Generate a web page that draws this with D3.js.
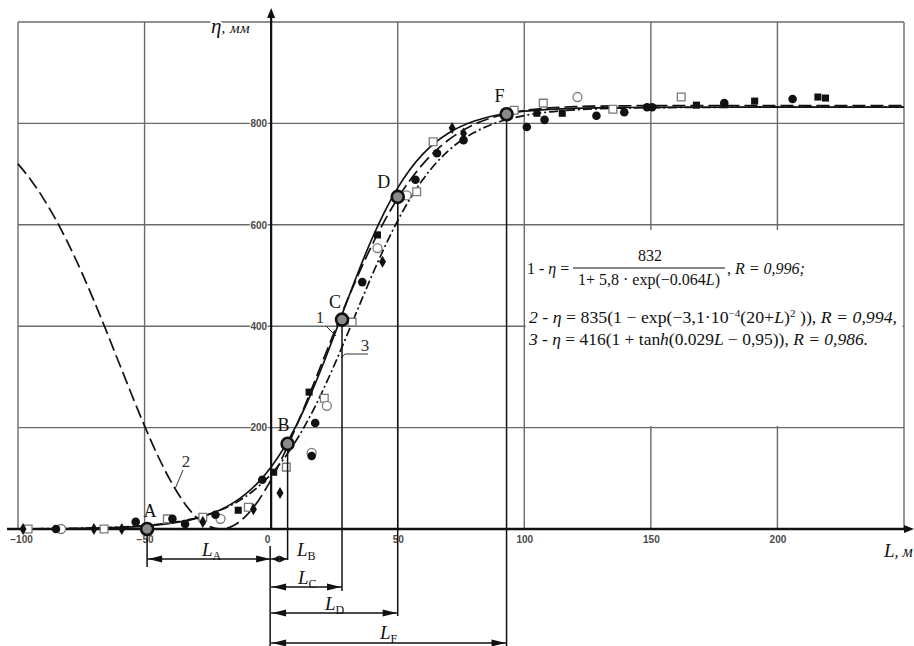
<!DOCTYPE html>
<html><head><meta charset="utf-8">
<script src="https://cdn.jsdelivr.net/npm/d3@7"></script>
<style>body{margin:0;background:#fff} svg{display:block}</style>
</head><body>
<svg id="c" width="914" height="646"></svg>
<script>
// ---------- data ----------
const xTicks = [-100, -50, 0, 50, 100, 150, 200];
const xGrid = [-100, -50, 0, 50, 100, 150, 200, 250];
const yTicks = [200, 400, 600, 800];
const yGrid = [200, 400, 600, 800, 1000];

// experimental points [L, eta]
const filledCircles = [[-85,0],[-53.5,14],[-39,20],[-34,10],[-22,28],[-3.5,97],[17.4,209],[16,144],[36,487],[57,689],[65.5,741],[76,767],[101,793],[108,807],[128.5,815],[139.5,822],[148.5,832],[150.5,832],[179,840],[206,848]];
const filledDiamonds = [[-98,0],[-70,0],[-59,0],[-27,14],[-7,39],[3.5,71],[44,527],[71.5,791],[76,780]];
const filledSquares = [[-13,37],[1,112],[15,270],[42,580],[105,820],[115,820],[168,836],[191,844],[216,852],[219,850]];
const openSquares = [[-96,0],[-66,0],[-41,20],[-27,23],[-9,43],[6,122],[21,258],[32,408],[57.5,665],[64,764],[96,826],[107.5,840],[135,828],[162,852]];
const openCircles = [[-83,0],[-20,20],[16,150],[22,243],[42,554],[53.5,658],[121,852]];

// fitted curves (values read along L)
const curveL = [-100,-95,-90,-85,-80,-75,-70,-65,-60,-55,-50,-45,-40,-35,-30,-25,-20,-15,-10,-5,0,5,10,15,20,25,30,35,40,45,50,55,60,65,70,80,90,100,110,120,130,140,150,175,200,250];
const curve1 = [0.2,0.3,0.5,0.6,0.9,1.2,1.6,2.2,3.1,4.2,5.8,8,10.9,15,20.5,28,38,51.5,69.3,92.6,122.4,159.6,205,258.3,318.5,383.2,449.6,514.4,574.5,627.6,672.9,710,739.8,763,780.7,804.1,817.1,824.1,827.8,829.8,830.8,831.4,831.7,831.9,832,832];
const curve2 = [720.2,689,652.2,609.6,561.5,508.1,450.3,389.3,326.5,263.9,203.3,147,97.4,56.3,25.5,6.4,0,6.4,25.5,56.3,97.4,147,203.3,263.9,326.5,389.3,450.3,508.1,561.5,609.6,652.2,689,720.2,746.1,767.2,797.4,815.4,825.4,830.6,833.1,834.2,834.7,835,835,835,835];
const curve3 = [0.4,0.5,0.6,0.8,1.2,1.6,2.1,2.8,3.8,5.1,6.8,9,12,16,21.3,28.3,37.3,49,64.3,84,108.3,138.6,175.4,218.9,268.7,324,382.8,443,502.1,557.8,608.2,652.4,689.9,720.9,746,781.5,803,815.5,822.7,826.8,829,830.3,831,831.7,831.95,832];
const curveNames = ["1", "2", "3"];

// characteristic points
const keyNames = ["A", "B", "C", "D", "F"];
const keyL = [-49, 6.5, 28, 50, 93];
const keyEta = [0, 168, 413, 655, 818];

// ---------- layout ----------
const svg = d3.select("#c");
const x = d3.scaleLinear().domain([-100, 250]).range([18, 904]);
const y = d3.scaleLinear().domain([0, 1000]).range([529, 22]);
const serif = "'Liberation Serif','Times New Roman',serif";
const INK = "#111";

// grid
const grid = svg.append("g").attr("stroke", "#6a6a6a").attr("stroke-width", 1.4);
grid.selectAll(".vg").data(xGrid).join("line")
  .attr("x1", d => x(d)).attr("x2", d => x(d)).attr("y1", y(0)).attr("y2", y(1000));
grid.selectAll(".hg").data(yGrid).join("line")
  .attr("x1", x(-100)).attr("x2", x(250)).attr("y1", d => y(d)).attr("y2", d => y(d));

// white formula box (hides grid beneath)
svg.append("rect").attr("x", x(100) + 1.5).attr("y", 230)
  .attr("width", x(250) - x(100) - 3).attr("height", 196).attr("fill", "#fff");

// axes with tick labels
const ax = svg.append("g").attr("transform", `translate(0,${y(0)})`)
  .call(d3.axisBottom(x).tickValues(xTicks).tickSize(0).tickPadding(7).tickFormat(d3.format("d")));
ax.select(".domain").remove();
ax.selectAll("text").attr("font-family", "'Liberation Sans',Arial,sans-serif")
  .attr("font-size", 10).attr("font-weight", "bold").attr("fill", "#4a4a4a")
  .attr("dx", d => d === 0 ? -4 : (d === -100 ? 3 : 0));

const ay = svg.append("g").attr("transform", `translate(${x(0)},0)`)
  .call(d3.axisLeft(y).tickValues(yTicks).tickSize(0).tickPadding(4).tickFormat(d3.format("d")));
ay.select(".domain").remove();
ay.selectAll("text").attr("font-family", "'Liberation Sans',Arial,sans-serif")
  .attr("font-size", 10).attr("font-weight", "bold").attr("fill", "#4a4a4a")
  .attr("stroke", "#fff").attr("stroke-width", 2).attr("paint-order", "stroke");

// axis lines + arrows
svg.append("line").attr("x1", 7).attr("x2", 906).attr("y1", y(0)).attr("y2", y(0))
  .attr("stroke", INK).attr("stroke-width", 2.4);
svg.append("path").attr("d", `M914,${y(0)} L904,${y(0)-4} L904,${y(0)+4} Z`).attr("fill", INK);
svg.append("line").attr("x1", x(0)).attr("x2", x(0)).attr("y1", y(0)).attr("y2", 14)
  .attr("stroke", INK).attr("stroke-width", 2.2);
svg.append("path").attr("d", `M${x(0)},8 L${x(0)-4},18 L${x(0)+4},18 Z`).attr("fill", INK);

// axis titles
const etaLbl = svg.append("text").attr("x", 211).attr("y", 33).attr("font-family", serif)
  .attr("font-style", "italic").attr("font-size", 21).attr("fill", INK)
  .attr("stroke", "#fff").attr("stroke-width", 4).attr("paint-order", "stroke");
etaLbl.append("tspan").text("η");
etaLbl.append("tspan").attr("font-size", 15).attr("letter-spacing", 0.5).text(", мм");
const lLbl = svg.append("text").attr("x", 884).attr("y", 557).attr("font-family", serif)
  .attr("font-style", "italic").attr("font-size", 19).attr("fill", INK);
lLbl.append("tspan").text("L");
lLbl.append("tspan").attr("font-size", 16).text(", м");

// curves
const curveVals = [curve1, curve2, curve3];
const dashes = [null, "13,5", "9,3,2,3"];
const line = d3.line().x(d => x(d[0])).y(d => y(d[1])).curve(d3.curveMonotoneX);
curveVals.forEach((vals, i) => {
  svg.append("path").datum(curveL.map((L, k) => [L, vals[k]]))
    .attr("d", line).attr("fill", "none").attr("stroke", INK)
    .attr("stroke-width", 1.7).attr("stroke-dasharray", dashes[i]);
});

// points
const sym = (type, size) => d3.symbol().type(type).size(size)();
const drawPts = (data, type, size, fill, stroke, sw) => {
  svg.append("g").selectAll("path").data(data).join("path")
    .attr("transform", d => `translate(${x(d[0])},${y(d[1])})`)
    .attr("d", sym(type, size)).attr("fill", fill).attr("stroke", stroke).attr("stroke-width", sw);
};
drawPts(openSquares, d3.symbolSquare, 60, "#fff", "#7a7a7a", 1.3);
drawPts(openCircles, d3.symbolCircle, 64, "#fff", "#7a7a7a", 1.3);
drawPts(filledSquares, d3.symbolSquare, 50, INK, "none", 0);
drawPts(filledCircles, d3.symbolCircle, 58, INK, "none", 0);
drawPts(filledDiamonds, d3.symbolDiamond, 42, INK, "none", 0);

// curve number labels with leaders
const lead = svg.append("g").attr("stroke", "#333").attr("stroke-width", 1).attr("fill", "none");
lead.append("path").attr("d", "M326,326 L336,336");
lead.append("path").attr("d", "M341,358 L345,354 L368,354");
lead.append("path").attr("d", "M175,489 L183,470");
const numPos = [[320, 323], [186, 467], [365, 351]];
svg.selectAll(".num").data(curveNames).join("text")
  .attr("x", (d, i) => numPos[i][0]).attr("y", (d, i) => numPos[i][1])
  .attr("text-anchor", "middle").attr("font-family", serif).attr("font-size", 17)
  .attr("fill", "#333").text(d => d);

// dimension lines
const dimRowY = [559, 559, 587, 613, 643];
const dimBottom = [567, 560, 591, 616, 646];
const kp = keyNames.map((n, i) => ({ n, L: keyL[i], e: keyEta[i], row: dimRowY[i], bot: dimBottom[i] }));
const dim = svg.append("g").attr("stroke", INK).attr("stroke-width", 1.5);
dim.append("line").attr("x1", x(0) - 1).attr("x2", x(0) - 1).attr("y1", 546).attr("y2", 646);
dim.selectAll(".kv").data(kp).join("line")
  .attr("x1", d => x(d.L)).attr("x2", d => x(d.L))
  .attr("y1", d => d.n === "A" ? y(0) + 4 : y(d.e)).attr("y2", d => d.bot);
dim.selectAll(".kh").data(kp).join("line")
  .attr("x1", d => Math.min(x(d.L), x(0))).attr("x2", d => Math.max(x(d.L), x(0)))
  .attr("y1", d => d.row).attr("y2", d => d.row);
const head = (tx, ty, dir, len) => `M${tx},${ty} L${tx - dir * len},${ty - 3.5} L${tx - dir * len},${ty + 3.5} Z`;
kp.forEach(d => {
  const a = Math.min(x(d.L), x(0)) + 1, b = Math.max(x(d.L), x(0)) - 1;
  const len = Math.min(14, (b - a) / 2);
  svg.append("path").attr("d", head(a, d.row, -1, len)).attr("fill", INK);
  svg.append("path").attr("d", head(b, d.row, 1, len)).attr("fill", INK);
});
const dimLblPos = [[202, 556], [297, 556], [298, 584], [325, 610], [380, 639]];
kp.forEach((d, i) => {
  const t = svg.append("text").attr("x", dimLblPos[i][0]).attr("y", dimLblPos[i][1])
    .attr("font-family", serif).attr("font-size", 19).attr("fill", INK);
  t.append("tspan").attr("font-style", "italic").text("L");
  t.append("tspan").attr("font-size", 12).attr("dy", 4).text(d.n);
});

// key points
svg.selectAll(".kp").data(kp).join("circle")
  .attr("cx", d => x(d.L)).attr("cy", d => y(d.e)).attr("r", 6)
  .attr("fill", "#8a8a8a").attr("stroke", INK).attr("stroke-width", 2.6);
const keyOff = [[3, -12], [-4, -13], [-7, -12], [-14, -9], [-7, -12]];
svg.selectAll(".kl").data(kp).join("text")
  .attr("x", (d, i) => x(d.L) + keyOff[i][0]).attr("y", (d, i) => y(d.e) + keyOff[i][1])
  .attr("text-anchor", "middle").attr("font-family", serif).attr("font-size", 18)
  .attr("fill", INK).text(d => d.n);

// formulas
const F = svg.append("g").attr("font-family", serif).attr("font-size", 16).attr("fill", INK);
let t1 = F.append("text").attr("x", 527).attr("y", 274);
t1.append("tspan").text("1 - ");
t1.append("tspan").attr("font-style", "italic").text("η");
t1.append("tspan").text(" =");
F.append("text").attr("x", 650).attr("y", 261).attr("text-anchor", "middle").text("832");
F.append("line").attr("x1", 573).attr("x2", 725).attr("y1", 268).attr("y2", 268)
  .attr("stroke", INK).attr("stroke-width", 1);
let den = F.append("text").attr("x", 649).attr("y", 285).attr("text-anchor", "middle");
den.append("tspan").text("1+ 5,8 · exp(−0.064");
den.append("tspan").attr("font-style", "italic").text("L");
den.append("tspan").text(")");
let r1 = F.append("text").attr("x", 727).attr("y", 274);
r1.append("tspan").text(", ");
r1.append("tspan").attr("font-style", "italic").text("R = 0,996;");

let t2 = F.append("text").attr("x", 529).attr("y", 323).attr("textLength", 368).attr("lengthAdjust", "spacingAndGlyphs");
t2.append("tspan").attr("font-style", "italic").text("2 - η");
t2.append("tspan").text(" = 835(1 − exp(−3,1·10");
t2.append("tspan").attr("font-size", 10).attr("dy", -6).text("−4");
t2.append("tspan").attr("dy", 6).text("(20+");
t2.append("tspan").attr("font-style", "italic").text("L");
t2.append("tspan").text(")");
t2.append("tspan").attr("font-size", 10).attr("dy", -6).text("2");
t2.append("tspan").attr("dy", 6).text(" )), ");
t2.append("tspan").attr("font-style", "italic").text("R = 0,994,");

let t3 = F.append("text").attr("x", 529).attr("y", 345).attr("textLength", 339).attr("lengthAdjust", "spacingAndGlyphs");
t3.append("tspan").attr("font-style", "italic").text("3 - η");
t3.append("tspan").text(" = 416(1 + tan");
t3.append("tspan").attr("font-style", "italic").text("h");
t3.append("tspan").text("(0.029");
t3.append("tspan").attr("font-style", "italic").text("L");
t3.append("tspan").text(" − 0,95)), ");
t3.append("tspan").attr("font-style", "italic").text("R = 0,986.");
</script>
</body></html>
